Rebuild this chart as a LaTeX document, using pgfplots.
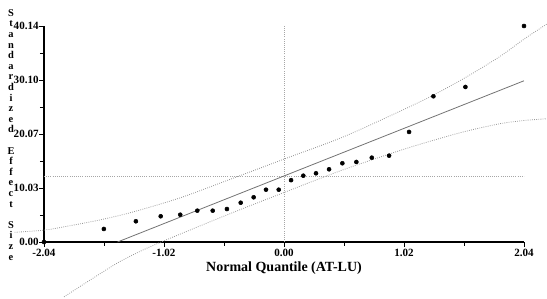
\documentclass[border=0pt]{standalone}
\usepackage{pgfplots}
\pgfplotsset{compat=1.18}
\usepackage{fontspec}
\setmainfont{Liberation Serif}
\begin{document}
\begin{tikzpicture}
\useasboundingbox (0,0) rectangle (410.25pt,224.25pt);
\begin{axis}[
 scale only axis, width=360pt, height=162pt,
 at={(33pt,42.75pt)}, anchor=south west,
 xmin=-2.04, xmax=2.04, ymin=0, ymax=40.14,
 axis lines=left, axis line style={-, line width=0.8pt},
 clip=false,
 tick align=outside, major tick length=3.5pt, minor tick length=3pt,
 every tick/.style={black, line width=0.6pt},
 xtick={-2.04,-1.02,0,1.02,2.04}, xticklabels={-2.04,-1.02,0.00,1.02,2.04},
 minor xtick={-1.53,-0.51,0.51,1.53},
 ytick={0,10.03,20.07,30.10,40.14}, yticklabels={0.00,10.03,20.07,30.10,40.14},
 minor ytick={5.02,15.05,25.09,35.12},
 ticklabel style={font=\fontsize{8.3}{9}\selectfont\bfseries},
 yticklabel style={xshift=3pt},
 xticklabel style={yshift=2pt},
 xlabel={Normal Quantile (AT-LU)},
 xlabel style={at={(axis description cs:0.5,0)}, anchor=center, yshift=-19.5pt, font=\fontsize{10.5}{12}\selectfont\bfseries},
]
% reference lines
\addplot[densely dotted, gray!70, line width=0.6pt] coordinates {(-2.04,12.27) (2.04,12.27)};
\addplot[densely dotted, gray!70, line width=0.6pt] coordinates {(0,0) (0,40.14)};
% confidence bands
\addplot[densely dotted, gray!80, line width=0.6pt, smooth] coordinates {
(-2.29,1.8) (-2.04,2.2) (-1.85,2.9) (-1.565,4.1) (-1.28,5.6) (-0.884,8.2) (-0.5,11.3) (0.0,15.4) (0.5,19.5) (0.986,24.3) (1.27,27.3) (1.553,30.7) (1.837,34.5) (2.047,37.8) (2.234,40.5)};
\addplot[densely dotted, gray!80, line width=0.6pt, smooth] coordinates {
(-1.87,-10.2) (-1.6,-6.4) (-1.4,-3.7) (-1.2,-1.5) (-1.0,0.4) (-0.5,4.9) (0.0,9.2) (0.5,13.4) (1.0,17.1) (1.27,18.9) (1.55,20.6) (1.84,22.0) (2.05,22.6) (2.234,22.9)};
% fitted line
\addplot[gray!90!black, line width=0.6pt] coordinates {(-1.415,0) (2.04,29.96)};
% data
\addplot[only marks, mark=*, mark size=1.5pt, black] coordinates {
(-2.04,0) (-1.531,2.42) (-1.259,3.85) (-1.048,4.78) (-0.882,5.07) (-0.737,5.82) (-0.606,5.82) (-0.485,6.13) (-0.368,7.30) (-0.258,8.31) (-0.153,9.72) (-0.045,9.72) (0.060,11.49) (0.164,12.32) (0.272,12.77) (0.383,13.51) (0.496,14.63) (0.615,14.87) (0.746,15.67) (0.893,16.04) (1.063,20.45) (1.270,27.08) (1.542,28.81) (2.04,40.14)};
\end{axis}
\node[align=center, font=\fontsize{7.8}{7.95}\selectfont\bfseries, anchor=center] at (8.25pt,123.1pt)
 {S\\t\\a\\n\\d\\a\\r\\d\\i\\z\\e\\d\\\strut\\E\\f\\f\\e\\c\\t\\\strut\\S\\i\\z\\e};
\end{tikzpicture}
\end{document}
